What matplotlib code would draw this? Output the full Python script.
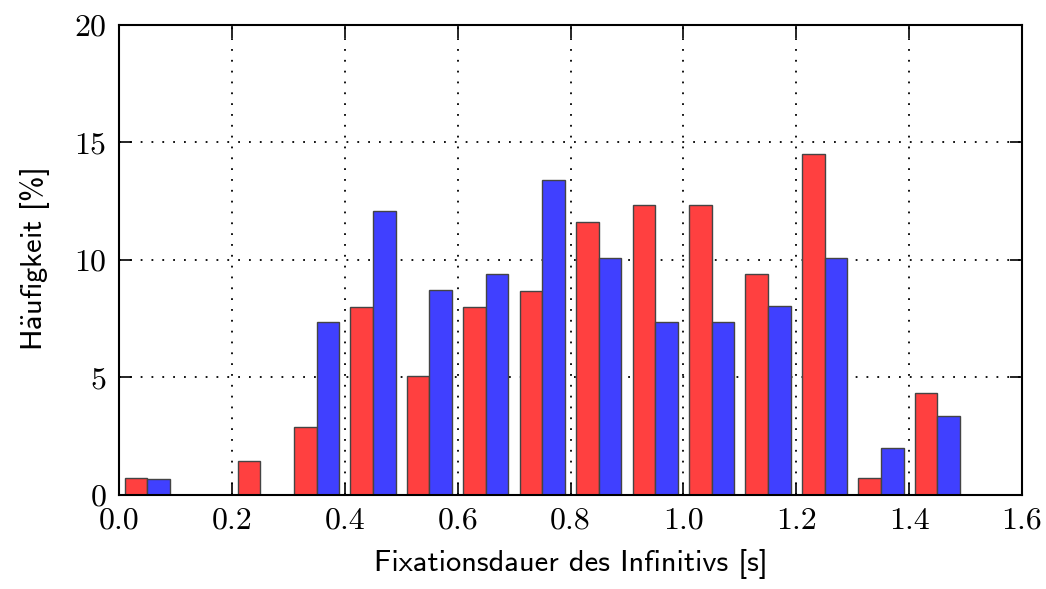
import matplotlib
matplotlib.use("Agg")
import matplotlib.pyplot as plt
import numpy as np

# bin starts (s), bin width 0.1
bins = [0.0, 0.1, 0.2, 0.3, 0.4, 0.5, 0.6, 0.7, 0.8, 0.9, 1.0, 1.1, 1.2, 1.3, 1.4, 1.5]
red_vals = [0.72, 0.0, 1.45, 2.9, 8.0, 5.07, 8.0, 8.7, 11.6, 12.32, 12.32, 9.42, 14.5, 0.72, 4.35, 0.0]
blue_vals = [0.67, 0.0, 0.0, 7.38, 12.08, 8.72, 9.4, 13.42, 10.07, 7.38, 7.38, 8.05, 10.07, 2.01, 3.36, 0.0]
xticks = [0.0, 0.2, 0.4, 0.6, 0.8, 1.0, 1.2, 1.4, 1.6]
yticks = [0, 5, 10, 15, 20]

plt.rcParams['axes.unicode_minus'] = False
plt.rcParams['mathtext.fontset'] = 'cm'

fig = plt.figure(figsize=(10.46, 5.89), dpi=100)
ax = fig.add_axes([0.1138, 0.1596, 0.8633, 0.798])

b = np.array(bins)
ax.bar(b + 0.03, red_vals, width=0.04, color='#ff4040', edgecolor='#444444', linewidth=1.0, zorder=3)
ax.bar(b + 0.07, blue_vals, width=0.04, color='#4040ff', edgecolor='#444444', linewidth=1.0, zorder=3)

ax.set_xlim(0, 1.6)
ax.set_ylim(0, 20)
ax.set_xticks(xticks)
ax.set_yticks(yticks)
ax.set_xticklabels([f"{t:.1f}" for t in xticks], family='cmr10', fontsize=23)
ax.set_yticklabels([str(t) for t in yticks], family='cmr10', fontsize=23)
ax.tick_params(direction='in', length=9, width=1.2, top=True, right=True, pad=9)

ax.grid(True, color='black', linestyle=(0, (1, 5)), linewidth=1.3, zorder=1)
for s in ax.spines.values():
    s.set_linewidth(1.5)
    s.set_zorder(4)

ax.set_xlabel('Fixationsdauer des Infinitivs [s]', family='cmss10', fontsize=22, labelpad=10)
# cmss10 has no umlaut glyph, so the ä is built with mathtext
ax.set_ylabel(r'H$\mathsf{\ddot{a}}$ufigkeit [%]', family='cmss10', fontsize=22, labelpad=16)

fig.savefig('out.png', dpi=100)
